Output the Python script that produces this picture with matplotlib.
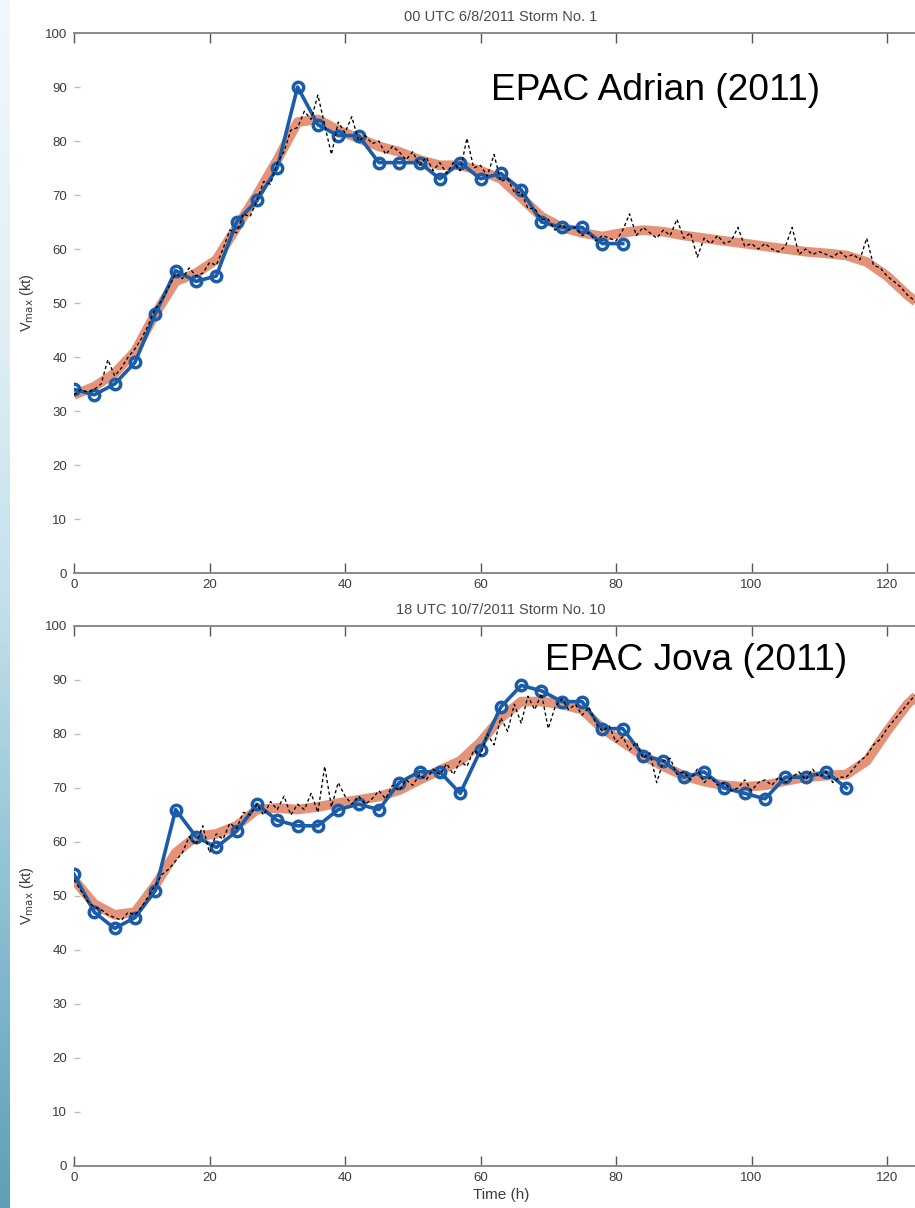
import numpy as np
import matplotlib
matplotlib.use("Agg")
import matplotlib.pyplot as plt
from matplotlib.colors import LinearSegmentedColormap

plt.rcParams['font.family'] = ['Liberation Sans', 'DejaVu Sans']

# ---------------- data ----------------
# Adrian (2011): 3-hourly best-track intensity (kt)
adr_track_t = [0, 3, 6, 9, 12, 15, 18, 21, 24, 27, 30, 33, 36, 39, 42, 45, 48, 51,
               54, 57, 60, 63, 66, 69, 72, 75, 78, 81]
adr_track_v = [34, 33, 35, 39, 48, 56, 54, 55, 65, 69, 75, 90, 83, 81, 81, 76, 76, 76,
               73, 76, 73, 74, 71, 65, 64, 64, 61, 61]

# Adrian: smoothed intensity (kt), 3-hourly
adr_smooth_t = list(range(0, 127, 3))
adr_smooth_v = [33, 34.5, 37, 41, 48, 54, 55.5, 58, 64, 70, 76.5, 83.5, 84, 82,
                80.5, 79, 78, 76.5, 75.5, 75.5, 74.5, 73, 69.5, 66, 64, 63, 62.3, 63,
                63.5, 63.2, 62.5, 62, 61.5, 61, 60.5, 60, 59.5, 59.2, 58.8, 57.6, 55,
                51.5, 48.5]

# Adrian: hourly raw estimate (kt)
adr_raw_t = list(range(0, 126))
adr_raw_v = [33, 34, 33.5, 34, 35, 39.5, 36.5, 38, 40, 41.5, 43.5, 46, 49, 50.5, 53,
             55.5, 54.5, 56.5, 55, 55.5, 57.5, 57, 60, 63.5, 63, 66.5, 66, 69, 72.5,
             72, 76, 78, 82, 82.5, 85.5, 84, 88.5, 83, 77.5, 83.5, 81.5, 84.5, 80, 81,
             79.5, 80, 77.5, 79, 78, 76.5, 78, 75.5, 77, 74.5, 76, 74, 76, 74.5, 80.5,
             75, 75.5, 73.5, 77.5, 72.5, 73, 70.5, 70.5, 67.5, 67.5, 65.5, 65.5, 63.5,
             64.5, 63.5, 64, 62.5, 63, 61.5, 62.5, 62, 61.5, 63.5, 66.5, 62.5, 64, 63,
             62, 63.5, 62.5, 65.5, 62, 63, 58.5, 62, 61, 62.5, 61, 61.5, 64, 60.5, 61,
             60, 61, 60, 59.5, 60.5, 64, 59, 60, 59, 59.5, 59, 58.5, 59.5, 58.5, 59,
             58, 62, 57, 56.5, 55, 54, 53, 51.5, 50.5, 49]

# Jova (2011): 3-hourly best-track intensity (kt)
jov_track_t = list(range(0, 115, 3))
jov_track_v = [54, 47, 44, 46, 51, 66, 61, 59, 62, 67, 64, 63, 63, 66, 67, 66, 71, 73,
               73, 69, 77, 85, 89, 88, 86, 86, 81, 81, 76, 75, 72, 73, 70, 69, 68, 72,
               72, 73, 70]

# Jova: smoothed intensity (kt), 3-hourly
jov_smooth_t = list(range(0, 127, 3))
jov_smooth_v = [53, 48.5, 46.5, 47, 52, 58, 61, 61.5, 63, 66, 66.3, 66, 66.5, 67.2,
                67.8, 68.4, 69.6, 71.5, 73.3, 75, 78.5, 83, 86, 86, 85.5, 84.5, 81,
                78.5, 76, 74, 72.3, 71.2, 70.5, 70.2, 70.5, 71.3, 72, 72.3, 72.5, 75,
                80.5, 85.5, 89]

# Jova: hourly raw estimate (kt)
jov_raw_t = list(range(0, 126))
jov_raw_v = [53, 51, 49, 48, 47.5, 46.5, 46, 45.5, 47, 46.5, 48, 50, 52, 54, 55, 56.5,
             58, 61, 59.5, 63, 58, 61.5, 60.5, 63.5, 62.5, 65.5, 65, 67, 65, 67.5, 66,
             68.5, 65, 67, 66, 69, 65.5, 74, 66.5, 71, 68.5, 67, 68.5, 67, 68, 69.5,
             68, 70.5, 69.5, 71.5, 70.5, 72.5, 71.5, 73.5, 72.5, 74.5, 72.5, 75, 74,
             77, 76, 80, 78, 83, 80.5, 85.5, 82, 87, 84.5, 87.5, 81, 85, 86.5, 84.5,
             85.5, 83.5, 85, 82, 80.5, 81.5, 78.5, 79.5, 77, 78.5, 75.5, 76.5, 71, 75,
             75.5, 72.5, 73, 71.5, 73.5, 71, 72, 70.5, 71, 69.5, 70, 71.5, 69.5, 71,
             71.5, 70.5, 72, 71, 72, 73, 71.5, 73.5, 72, 73, 71, 72, 72, 73.5, 75, 76,
             78, 79, 81, 82.5, 84, 85.5, 87, 88]

panels = [
    dict(title="00 UTC 6/8/2011 Storm No. 1", name="EPAC Adrian (2011)",
         track=(adr_track_t, adr_track_v), smooth=(adr_smooth_t, adr_smooth_v),
         raw=(adr_raw_t, adr_raw_v), xlabel=False),
    dict(title="18 UTC 10/7/2011 Storm No. 10", name="EPAC Jova (2011)",
         track=(jov_track_t, jov_track_v), smooth=(jov_smooth_t, jov_smooth_v),
         raw=(jov_raw_t, jov_raw_v), xlabel=True),
]

x_ticks = [0, 20, 40, 60, 80, 100, 120]
y_ticks = list(range(0, 101, 10))

# ---------------- figure ----------------
W, H = 915, 1208
fig = plt.figure(figsize=(W / 100, H / 100), dpi=100)

# slide-background strip on the left edge
strip = fig.add_axes([0, 0, 10 / W, 1])
cmap = LinearSegmentedColormap.from_list(
    "strip", ["#f1f8fb", "#e2f0f5", "#c3e0ea", "#8cc0d2", "#5e9fb7"])
strip.imshow(np.linspace(0, 1, 256).reshape(-1, 1), aspect="auto", cmap=cmap,
             extent=[0, 1, 0, 1], origin="upper")
strip.axis("off")

left_px, right_px = 74, 928
x_max = 126.05
ax_w = (right_px - left_px) / W
ax_h = 540 / H
bottoms = [1 - 573 / H, 1 - 1166 / H]
name_pos = [(491, 100), (545, 670)]

ORANGE = "#e2876b"
BLUE = "#1b5ca8"
GRID = "#8a8a8a"
TXT = "#3c3c3c"

for p, bottom, (nx, ny) in zip(panels, bottoms, name_pos):
    ax = fig.add_axes([left_px / W, bottom, ax_w, ax_h])
    ax.plot(*p["smooth"], color=ORANGE, lw=7, alpha=0.9,
            solid_capstyle="butt", zorder=2)
    ax.plot(*p["track"], color=BLUE, lw=2.6, marker="o", ms=7.5,
            mfc="none", mec=BLUE, mew=2.5, zorder=3)
    ax.plot(*p["raw"], color="black", lw=0.95, dashes=(2.5, 2.0), zorder=4)

    ax.set_xlim(0, x_max)
    ax.set_ylim(0, 100)
    ax.set_xticks(x_ticks)
    ax.set_yticks(y_ticks)
    ax.tick_params(axis="x", direction="in", length=7, width=1, color="#555555",
                   top=True, labelsize=9.5, labelcolor=TXT, pad=4)
    ax.tick_params(axis="y", direction="in", length=4, width=1, color="#bdbdbd",
                   labelsize=9.5, labelcolor=TXT, pad=5)
    for s in ("left", "right"):
        ax.spines[s].set_visible(False)
    for s in ("top", "bottom"):
        ax.spines[s].set_color(GRID)
        ax.spines[s].set_linewidth(1.4)

    ax.set_title(p["title"], fontsize=10.5, color="#4a4a4a", pad=9)
    ax.set_ylabel(r"V$_{\rm max}$ (kt)", fontsize=10.5, color=TXT)
    ax.yaxis.set_label_coords(-0.045, 0.5)
    if p["xlabel"]:
        ax.set_xlabel("Time (h)", fontsize=11, color=TXT, labelpad=3)

    fig.text(nx / W, 1 - ny / H, p["name"], fontsize=26.7, color="black",
             ha="left", va="baseline")

fig.savefig("out.png", dpi=100)
